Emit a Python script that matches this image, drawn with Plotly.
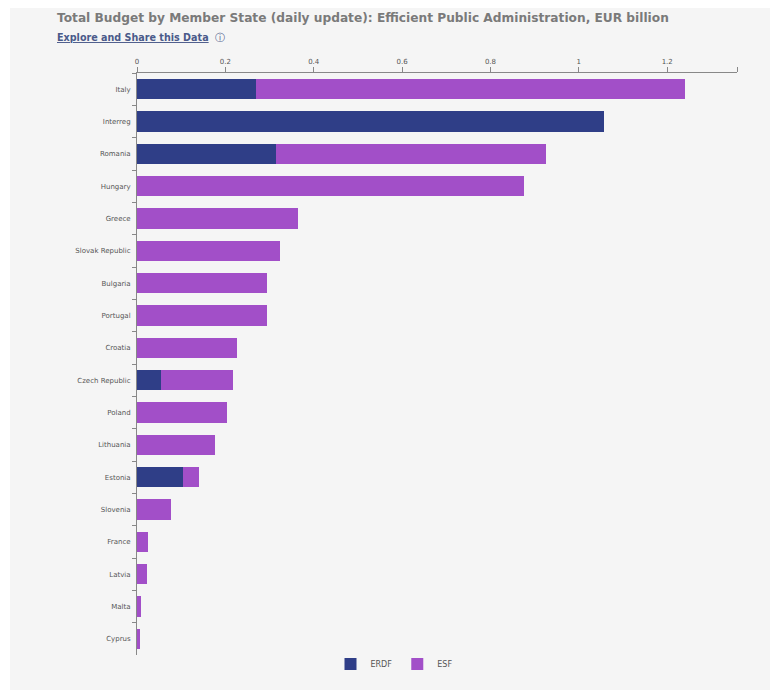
import plotly.graph_objects as go

categories = ["Italy", "Interreg", "Romania", "Hungary", "Greece", "Slovak Republic",
              "Bulgaria", "Portugal", "Croatia", "Czech Republic", "Poland", "Lithuania",
              "Estonia", "Slovenia", "France", "Latvia", "Malta", "Cyprus"]
erdf = [0.270, 1.058, 0.315, 0, 0, 0, 0, 0, 0, 0.054, 0, 0, 0.104, 0, 0, 0, 0, 0]
esf = [0.971, 0, 0.610, 0.877, 0.365, 0.324, 0.295, 0.295, 0.227, 0.164, 0.204, 0.177,
       0.036, 0.078, 0.025, 0.022, 0.010, 0.007]
x_tick_vals = [0, 0.2, 0.4, 0.6, 0.8, 1, 1.2, 1.358]
x_tick_text = ["0", "0.2", "0.4", "0.6", "0.8", "1", "1.2", ""]

ERDF_COLOR = "#2f3e87"
ESF_COLOR = "#a24fc8"

# page body has an 8px default margin; figure is sized/offset to compensate
W, H = 772, 687
L, R, T, B = 129, 43, 65, 40
PW, PH = W - L - R, H - T - B

fig = go.Figure()
fig.add_trace(go.Bar(y=categories, x=erdf, name="ERDF", orientation="h",
                     marker=dict(color=ERDF_COLOR, line=dict(width=0))))
fig.add_trace(go.Bar(y=categories, x=esf, name="ESF", orientation="h",
                     marker=dict(color=ESF_COLOR, line=dict(width=0))))

fig.update_layout(
    width=W, height=H,
    barmode="stack", bargap=0.37,
    paper_bgcolor="#ffffff", plot_bgcolor="#f5f5f5",
    margin=dict(l=L, r=R, t=T, b=B, autoexpand=False),
    font=dict(family="DejaVu Sans", size=7, color="#555555"),
    showlegend=True,
    legend=dict(orientation="h", x=(386 - L) / PW, xanchor="center", y=0.0095, yanchor="top",
                font=dict(size=8, color="#555555"), bgcolor="rgba(0,0,0,0)",
                itemwidth=30, traceorder="normal"),
    xaxis=dict(side="top", range=[0, 1.358], tickvals=x_tick_vals, ticktext=x_tick_text,
               showgrid=False, zeroline=False, showline=True, linecolor="#888888",
               linewidth=1, ticks="outside", ticklen=5, tickcolor="#888888",
               tickfont=dict(size=7, color="#555555")),
    yaxis=dict(categoryorder="array", categoryarray=categories, autorange="reversed",
               showgrid=False, zeroline=False, showline=True, linecolor="#888888",
               linewidth=1, ticks="outside", ticklen=4, tickcolor="#888888",
               tickson="boundaries", ticklabelstandoff=4,
               tickfont=dict(size=7, color="#555555")),
    shapes=[dict(type="rect", xref="paper", yref="paper",
                 x0=(2 - L) / PW, x1=(762 - L) / PW,
                 y0=-(682 - (T + PH)) / PH, y1=1 + (T + 2) / PH,
                 fillcolor="#f5f5f5", line=dict(width=0), layer="below")],
    annotations=[
        dict(text="<b>Total Budget by Member State (daily update): Efficient Public Administration, EUR billion</b>",
             xref="paper", yref="paper", x=(47 - L) / PW, y=1 + (T - 10) / PH,
             xanchor="left", yanchor="middle", showarrow=False,
             font=dict(family="DejaVu Sans", size=12.2, color="#7a7a7a")),
        dict(text="<b><u>Explore and Share this Data</u></b>  ⓘ",
             xref="paper", yref="paper", x=(47 - L) / PW, y=1 + (T - 29) / PH,
             xanchor="left", yanchor="middle", showarrow=False,
             font=dict(family="DejaVu Sans", size=9.6, color="#4a5a8a")),
    ],
)

fig.write_html("out.html")
